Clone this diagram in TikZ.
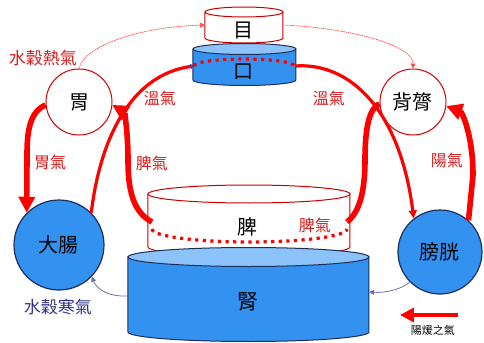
\documentclass[tikz,border=0pt]{standalone}
\usepackage{fontspec}
\setmainfont{Noto Sans CJK TC}
\usetikzlibrary{arrows.meta}
\definecolor{cylblue}{RGB}{51,146,240}
\definecolor{topblue}{RGB}{140,195,250}
\definecolor{edgeblue}{RGB}{30,45,90}
\definecolor{lblred}{RGB}{215,30,30}
\definecolor{navylbl}{RGB}{50,50,140}
\definecolor{thinblue}{RGB}{110,110,175}
\definecolor{tipblue}{RGB}{70,60,150}
\newcommand{\mycyl}[8]{%
  \filldraw[fill=#6,draw=#8,line width=0.5pt] ({#1-#2},#3) -- ({#1-#2},#4) arc[start angle=180,end angle=0,x radius=#2,y radius=#5] -- ({#1+#2},#3) -- cycle;
  \filldraw[fill=#7,draw=#8,line width=0.5pt] (#1,#3) ellipse[x radius=#2,y radius=#5];
}
\tikzset{
  redcirc/.style={circle,draw=red!85!black,line width=0.5pt,fill=white,font=\fontsize{10}{12}\selectfont,inner sep=0pt},
  bluecirc/.style={circle,draw=edgeblue,line width=0.6pt,fill=cylblue,font=\fontsize{10}{12}\selectfont,inner sep=0pt},
  cyltext/.style={font=\fontsize{10}{12}\selectfont,inner sep=0pt},
  redlbl/.style={text=lblred,font=\fontsize{8}{10}\selectfont,inner sep=0pt},
  thickred/.style={draw=red,line width=2.8pt,-{Triangle[length=8pt,width=8pt]}},
  thickrednotip/.style={draw=red,line width=2.8pt},
  medred/.style={draw=red,line width=1.6pt,-{Triangle[length=4pt,width=4pt]}},
  medredsmall/.style={draw=red,line width=1.6pt,-{Triangle[length=1.8pt,width=2.6pt,color=tipblue,fill=tipblue]}},
  thinred/.style={draw=red!70,line width=0.35pt,dash pattern=on 0.7pt off 0.35pt,-{Triangle[length=2.5pt,width=2.5pt]}},
  thinblueln/.style={draw=thinblue,line width=0.4pt,-{Triangle[length=2.5pt,width=2.5pt]}},
  reddots/.style={draw=red,line width=1.6pt,dash pattern=on 1.6pt off 2.2pt}
}
\begin{document}
\begin{tikzpicture}[x=0.5pt,y=-0.5pt]
\useasboundingbox (0,0) rectangle (484,343);
% cylinders
\mycyl{244}{39}{12}{38}{5}{white}{white}{red!80!black}
\node[cyltext] (mu) at (244,30) {目};
\mycyl{244.5}{51.5}{49}{80}{5.5}{cylblue}{topblue}{edgeblue}
\draw[reddots] (194,66) arc[start angle=180,end angle=360,x radius=50,y radius=7];
\node[cyltext] (kou) at (244,72) {口};
\mycyl{249}{101}{194}{247}{9}{white}{white}{red!80!black}
\draw[reddots] (152,229) arc[start angle=180,end angle=0,x radius=97.5,y radius=13];
\node[cyltext] (pi) at (248,227) {脾};
\node[redlbl] (piqi) at (315,225) {脾氣};
\mycyl{248.5}{120.5}{257}{332}{9.5}{cylblue}{topblue}{edgeblue}
\node[cyltext,font=\fontsize{10.5}{12}\selectfont] (shen) at (248,302) {腎};
% connection points on cylinders
\coordinate (muL) at (205,25);
\coordinate (muR) at (283,25);
\coordinate (kouL) at (194,66);
\coordinate (kouR) at (295,66);
\coordinate (piL) at (152,222);
\coordinate (piR) at (347,222);
\coordinate (shenL) at (128,296);
\coordinate (shenR) at (369,292);
% circles
\node[redcirc,minimum size=33pt] (wei) at (79,102) {胃};
\node[redcirc,minimum size=33pt] (beilv) at (413,102) {背膂};
\node[bluecirc,minimum size=45pt] (dachang) at (59,245) {大腸};
\node[bluecirc,minimum size=42pt] (pangguang) at (440,252) {膀胱};
% thick red
\draw[thickred] (wei.185) .. controls (30,112) and (27,130) .. (27,155) -- (dachang.135);
\draw[thickred] (piL) .. controls (133,212) and (128,190) .. (128,160) .. controls (128,130) and (124,112) .. (wei.355);
\draw[thickrednotip] (piR) .. controls (360,212) and (365,190) .. (365,160) .. controls (365,125) and (370,108) .. (beilv.183);
\draw[thickred] (pangguang.48) -- (473,175) .. controls (473,135) and (462,112) .. (beilv.353);
% medium red
\draw[medredsmall] (dachang.45) .. controls (100,140) and (130,75) .. (kouL);
\draw[medred] (kouR) .. controls (350,62) and (400,110) .. (pangguang.128);
% thin red
\draw[thinred] (wei.90) .. controls (85,45) and (140,27) .. (muL);
\draw[thinred] (muR) .. controls (350,28) and (413,45) .. (beilv.90);
% thin blue
\draw[thinblueln] (shenL) .. controls (110,297) and (97,290) .. (dachang.316);
\draw[thinblueln] (pangguang.225) .. controls (400,290) and (385,293) .. (shenR);
% labels
\node[redlbl,font=\fontsize{8.5}{10}\selectfont] (l1) at (43,58) {水穀熱氣};
\node[redlbl] (l2) at (160,98) {溫氣};
\node[redlbl] (l3) at (329,98) {溫氣};
\node[redlbl] (l4) at (50,162) {胃氣};
\node[redlbl] (l5) at (152,163) {脾氣};
\node[redlbl] (l6) at (447,160) {陽氣};
\node[text=navylbl,font=\fontsize{8.5}{10}\selectfont,inner sep=0pt] (l7) at (58,307) {水穀寒氣};
% legend
\coordinate (legA) at (458,315);
\coordinate (legB) at (400,315);
\draw[draw=red,line width=2.2pt,-{Triangle[length=7pt,width=7pt]}] (legA) -- (legB);
\node[font=\fontsize{5.5}{7}\selectfont,inner sep=0pt] (leg) at (433,330) {陽煖之氣};
\end{tikzpicture}
\end{document}
